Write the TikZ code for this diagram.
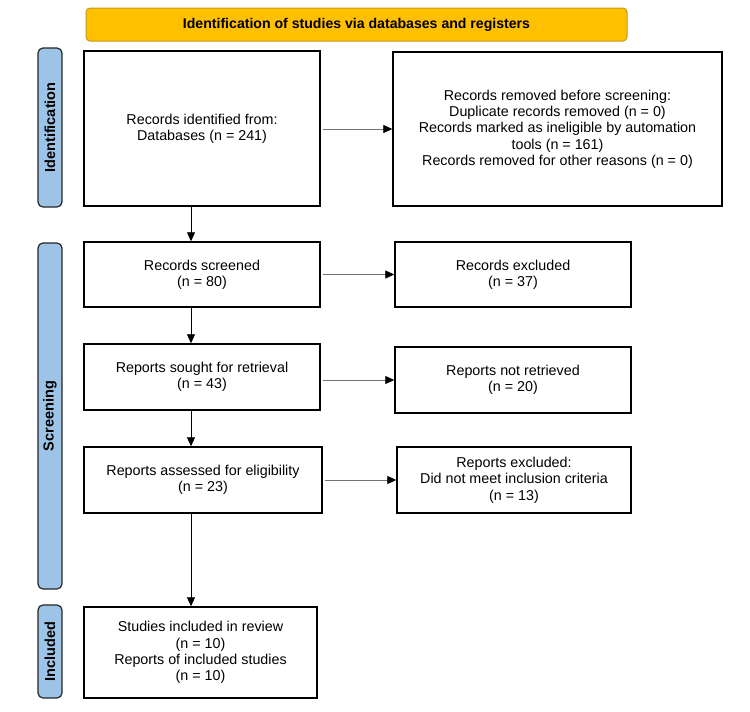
\documentclass[tikz,border=0pt]{standalone}
\usepackage{fontspec}
\setmainfont{Liberation Sans}
\usetikzlibrary{arrows.meta}

\definecolor{bannergold}{HTML}{FFC000}
\definecolor{bannerline}{HTML}{C49A1A}
\definecolor{stageblue}{HTML}{9DC3E6}

\tikzset{
  flowbox/.style={draw=black, line width=1.4pt, fill=white, align=center,
    inner sep=0pt, font=\fontsize{14.3}{16.3}\selectfont},
  stagebox/.style={draw=black!85, line width=1.2pt, fill=stageblue,
    rounded corners=5pt, inner sep=0pt, rotate=90, minimum height=24pt,
    font=\bfseries\fontsize{14.5}{16}\selectfont},
  flowarrow/.style={-{Triangle[length=9pt,width=8pt,color=black]},
    line width=0.8pt, shorten <=2pt},
}

\begin{document}
\begin{tikzpicture}[x=1pt, y=-1pt]
  % Page frame, same size as the reference
  \useasboundingbox[fill=white] (0,0) rectangle (750,712);

  % Heading banner
  \node[draw=bannerline, fill=bannergold, line width=1pt, rounded corners=4pt,
    minimum width=541pt, minimum height=33pt,
    font=\bfseries\fontsize{14.1}{16}\selectfont] (banner) at (356.5,24.5)
    {Identification of studies via databases and registers};

  % Stage labels on the left
  \node[stagebox, minimum width=159pt] (stageid) at (50,127.5) {Identification};
  \node[stagebox, minimum width=346pt] (stagescreen) at (50,416) {Screening};
  \node[stagebox, minimum width=93pt] (stageincl) at (50,651.5) {Included};

  % Identification row
  \node[flowbox, minimum width=236pt, minimum height=155pt] (identified) at (202,128.5)
    {Records identified from:\\Databases (n = 241)};
  \node[flowbox, minimum width=329pt, minimum height=154pt] (removed) at (557.5,129)
    {Records removed before screening:\\
     Duplicate records removed (n = 0)\\
     Records marked as ineligible by automation\\
     tools (n = 161)\\
     Records removed for other reasons (n = 0)};

  % Screening rows
  \node[flowbox, minimum width=236pt, minimum height=65pt] (screened) at (202,274.5)
    {Records screened\\(n = 80)};
  \node[flowbox, minimum width=236pt, minimum height=65pt] (excluded) at (513,274.5)
    {Records excluded\\(n = 37)};
  \node[flowbox, minimum width=236pt, minimum height=66pt] (sought) at (202,377)
    {Reports sought for retrieval\\(n = 43)};
  \node[flowbox, minimum width=236pt, minimum height=66pt] (notretrieved) at (513,380)
    {Reports not retrieved\\(n = 20)};
  \node[flowbox, minimum width=238pt, minimum height=66pt] (assessed) at (203,480)
    {Reports assessed for eligibility\\(n = 23)};
  \node[flowbox, minimum width=234pt, minimum height=66pt] (reportsexcl) at (514,480)
    {Reports excluded:\\Did not meet inclusion criteria\\(n = 13)};

  % Included row
  \node[flowbox, minimum width=233pt, minimum height=91pt] (included) at (200.5,652.5)
    {Studies included in review\\(n = 10)\\Reports of included studies\\(n = 10)};

  % Vertical trunk of the flow
  \coordinate (trunk) at (191,0);
  \draw[flowarrow, shorten <=0pt] (identified.south -| trunk) -- (screened.north -| trunk);
  \draw[flowarrow, shorten <=0pt] (screened.south -| trunk) -- (sought.north -| trunk);
  \draw[flowarrow, shorten <=0pt] (sought.south -| trunk) -- (assessed.north -| trunk);
  \draw[flowarrow, shorten <=0pt] (assessed.south -| trunk) -- (included.north -| trunk);

  % Side exits
  \draw[flowarrow, draw=black!55] (identified.east |- removed.west) -- (removed.west);
  \draw[flowarrow, draw=black!55] (screened.east) -- (excluded.west);
  \draw[flowarrow, draw=black!55] (sought.east |- notretrieved.west) -- (notretrieved.west);
  \draw[flowarrow, draw=black!55] (assessed.east) -- (reportsexcl.west);
\end{tikzpicture}
\end{document}
